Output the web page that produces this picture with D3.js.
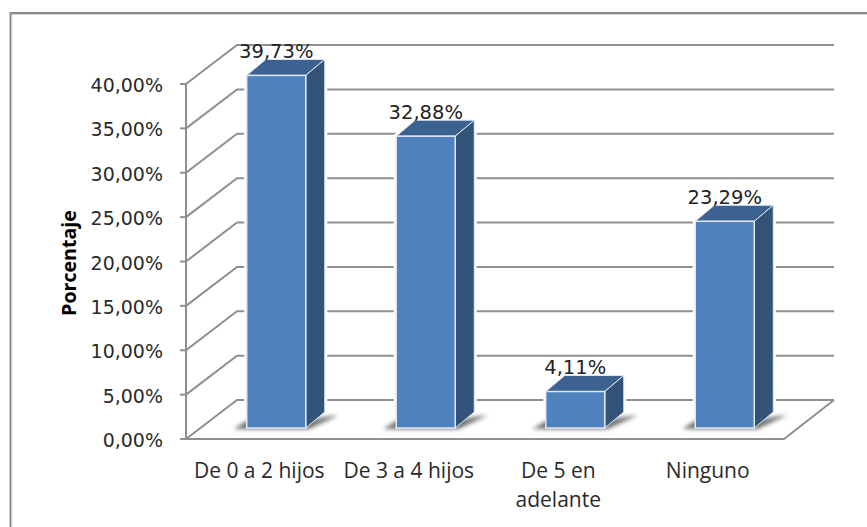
<!DOCTYPE html>
<html><head><meta charset="utf-8"><script src="https://cdn.jsdelivr.net/npm/d3@7"></script>
<style>html,body{margin:0;padding:0;background:#fff;overflow:hidden}svg{display:block}</style></head>
<body><svg id="c" width="867" height="527"></svg>
<script>
const categories=[["De 0 a 2 hijos"],["De 3 a 4 hijos"],["De 5 en","adelante"],["Ninguno"]];
const values=[39.73,32.88,4.11,23.29];
const valueLabels=["39,73%","32,88%","4,11%","23,29%"];
const yTicks=[0,5,10,15,20,25,30,35,40];
const fmt=d=>d.toFixed(2).replace(".",",")+"%";
const svg=d3.select("#c");
const defs=svg.append("defs");
defs.append("filter").attr("id","blur").attr("x","-30%").attr("y","-100%").attr("width","160%").attr("height","300%")
  .append("feGaussianBlur").attr("stdDeviation",2.2);
const grey="#8f8f8f";
const dx=51,dy=-39;
const y=d3.scaleLinear().domain([0,40]).range([439,84]);
const x=d3.scaleBand().domain(d3.range(4)).range([186,784]);
const barW=59,bdx=19,bdy=-16,baseLift=11,barShift=15.5;
// frame
svg.append("path").attr("d","M867,13H10.5V527").attr("fill","none").attr("stroke","#8a8a8a").attr("stroke-width",2);
svg.append("path").attr("d","M867,14.5H12V527").attr("fill","none").attr("stroke","#d8d8d8").attr("stroke-width",1);
// walls grid
const g=svg.append("g").attr("fill","none").attr("stroke",grey).attr("stroke-width",2);
yTicks.forEach(t=>{
  const yy=y(t);
  g.append("path").attr("d",`M186,${yy}L${186+dx},${yy+dy}H834`);
  g.append("path").attr("d",`M180,${yy}H186`);
});
g.append("path").attr("d",`M186,${y(40)}V${y(0)}H784L834,${y(0)+dy}`);
// bars
const cx=i=>x(i)+x.bandwidth()/2+barShift-barW/2;
const base=y(0)-baseLift;
const bars=svg.append("g");
values.forEach((v,i)=>{
  const l=cx(i),r=l+barW,top=y(v)-baseLift;
  // white gap where the grid lines meet the bar
  bars.append("path").attr("d",`M${l},${top}L${l+bdx},${top+bdy}H${r+bdx}V${base+bdy}L${r},${base}H${l}Z`)
    .attr("fill","#fff").attr("stroke","#fff").attr("stroke-width",5);
  bars.append("path").attr("d",`M${l-13},${base+1}H${r+3}L${r+bdx+14},${base+bdy+3}L${r+bdx},${base+bdy+5}L${r},${base-7}H${l}Z`)
    .attr("fill","#4a4a4a").attr("opacity",.8).attr("filter","url(#blur)");
  bars.append("path").attr("d",`M${l},${top}L${l+bdx},${top+bdy}H${r+bdx}L${r},${top}Z`).attr("fill","#3b6291").attr("stroke","#dfe7f1").attr("stroke-width",1);
  bars.append("path").attr("d",`M${r},${top}L${r+bdx},${top+bdy}V${base+bdy}L${r},${base}Z`).attr("fill","#335379").attr("stroke","#dfe7f1").attr("stroke-width",1);
  bars.append("rect").attr("x",l).attr("y",top).attr("width",barW).attr("height",base-top).attr("fill","#4f81bd").attr("stroke","#dfe7f1").attr("stroke-width",1.5);
  svg.append("text").attr("x",l+barW/2).attr("y",top+bdy-1.5).attr("text-anchor","middle")
    .attr("font-family","'DejaVu Sans'").attr("font-size",19.5).attr("fill","#222").text(valueLabels[i]);
});
// tick labels
svg.append("g").selectAll("text").data(yTicks).join("text").attr("x",163).attr("y",d=>y(d)+8).attr("text-anchor","end")
  .attr("font-family","'DejaVu Sans'").attr("font-size",19).attr("fill","#2a2a2a").text(fmt);
// categories
categories.forEach((c,i)=>{
  c.forEach((s,j)=>svg.append("text").attr("x",x(i)+x.bandwidth()/2-1.5).attr("y",478+j*29).attr("text-anchor","middle")
    .attr("font-family","'Open Sans'").attr("font-size",21).attr("fill","#2a2a2a").text(s));
});
svg.append("text").attr("transform","translate(76,263) rotate(-90)").attr("text-anchor","middle")
  .attr("font-family","'Open Sans'").attr("font-size",19.6).attr("font-weight",700).attr("fill","#000").text("Porcentaje");
</script></body></html>
